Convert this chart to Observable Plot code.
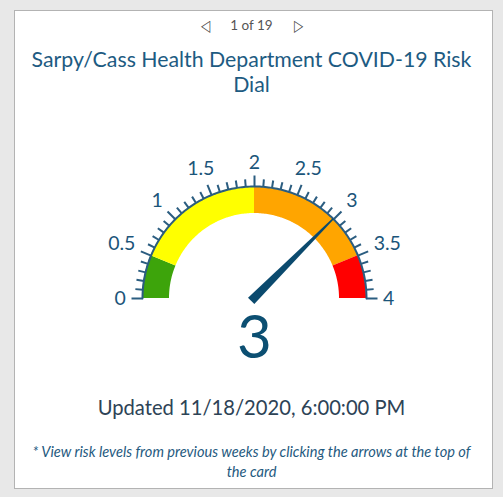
<!DOCTYPE html>
<html>
<head>
<meta charset="utf-8">
<script src="https://cdn.jsdelivr.net/npm/d3@7"></script>
<script src="https://cdn.jsdelivr.net/npm/@observablehq/plot@0.6"></script>
<style>
  html, body { margin: 0; padding: 0; width: 503px; height: 497px; overflow: hidden; background: #e8e8e8; font-family: Lato, "Open Sans", sans-serif; }
  #card { position: absolute; left: 14px; top: 10px; width: 477px; height: 477px; background: #fff; border: 1px solid #b3b3b3; }
  .abs { position: absolute; left: 0; width: 503px; text-align: center; white-space: nowrap; }
  #nav { top: 15px; font-size: 13.5px; color: #555; }
  #nav span.arr { display: inline-block; font-size: 16px; color: #444; margin: 0 19px; transform: scaleX(0.75); vertical-align: -1px; }
  #title { top: 47px; font-size: 21.3px; line-height: 25px; color: #1d5b82; }
  #updated { top: 395px; font-size: 20.2px; color: #2d4356; }
  #foot { top: 442px; font-size: 14.6px; line-height: 20px; font-style: italic; color: #1f5a80; }
  #chart { position: absolute; left: 0; top: 120px; }
</style>
</head>
<body>
<div id="card"></div>
<div id="nav" class="abs"><span class="arr">◁</span>1 of 19<span class="arr">▷</span></div>
<div id="title" class="abs">Sarpy/Cass Health Department COVID-19 Risk<br>Dial</div>
<div id="chart"></div>
<div id="updated" class="abs">Updated 11/18/2020, 6:00:00 PM</div>
<div id="foot" class="abs">* View risk levels from previous weeks by clicking the arrows at the top of<br>the card</div>
<script>
// ---- data ----
const gaugeMin = 0;
const gaugeMax = 4;
const currentValue = 3;
const bandFrom = [0, 0.5, 2, 3.5];
const bandTo = [0.5, 2, 3.5, 4];
const bandColors = ["#3da40b", "#ffff00", "#ffa500", "#ff0000"];
const tickLabels = ["0", "0.5", "1", "1.5", "2", "2.5", "3", "3.5", "4"];
const minorStep = 0.1;

// ---- geometry (pixels -> units) ----
const W = 503, H = 262;
const PX = 112;          // outer radius in px
const cx = 254, cy = 178; // gauge center inside svg
const inner = 85 / PX;
const ink = "#2b5d80";
const needleColor = "#0b4a6e";

const ang = v => Math.PI - (v - gaugeMin) / (gaugeMax - gaugeMin) * Math.PI;
const pol = (v, r) => [r * Math.cos(ang(v)), r * Math.sin(ang(v))];

// bands as polygons between inner and outer radius
const bandPts = [];
bandFrom.forEach((f, i) => {
  const t = bandTo[i];
  const n = Math.max(2, Math.ceil((t - f) / 0.02));
  for (let k = 0; k <= n; k++) {
    const v = f + (t - f) * k / n;
    const [xi, yi] = pol(v, inner);
    const [xo, yo] = pol(v, 1);
    bandPts.push({band: i, color: bandColors[i], x1: xi, y1: yi, x2: xo, y2: yo});
  }
});

// outer edge line
const edge = d3.range(0, 201).map(k => {
  const v = gaugeMin + (gaugeMax - gaugeMin) * k / 200;
  const [x, y] = pol(v, 1);
  return {x, y};
});

// ticks
const nTicks = Math.round((gaugeMax - gaugeMin) / minorStep);
const ticks = d3.range(0, nTicks + 1).map(k => {
  const v = gaugeMin + k * minorStep;
  const major = k % 5 === 0;
  const [x1, y1] = pol(v, 1);
  const [x2, y2] = pol(v, 1 + (major ? 11 : 7.5) / PX);
  return {x1, y1, x2, y2};
});

// labels: placed so the text box clears the ticks
const labels = tickLabels.map(s => {
  const v = +s;
  const w = s.replace(".", "").length * 10.5 + (s.includes(".") ? 5 : 0);
  const a0 = ang(v);
  const r = 129 + (w / 2) * Math.abs(Math.cos(a0)) + 7 * Math.abs(Math.sin(a0));
  const [x, y] = pol(v, r / PX);
  return {x, y, text: s};
});

// needle (quadrilateral via area x1,y1,x2,y2)
const a = ang(currentValue);
const ux = Math.cos(a), uy = Math.sin(a);
const px = -uy, py = ux;
const baseR = -4 / PX, tipR = 1;
const hw0 = 4.5 / PX, hw1 = 0.8 / PX;
const needle = [
  {x1: baseR * ux - px * hw0, y1: baseR * uy - py * hw0, x2: baseR * ux + px * hw0, y2: baseR * uy + py * hw0},
  {x1: tipR * ux - px * hw1, y1: tipR * uy - py * hw1, x2: tipR * ux + px * hw1, y2: tipR * uy + py * hw1}
];

const valueText = [{x: 0, y: -40 / PX, text: String(currentValue)}];

const plot = Plot.plot({
  width: W, height: H,
  margin: 0,
  x: {domain: [-cx / PX, (W - cx) / PX], axis: null},
  y: {domain: [-(H - cy) / PX, cy / PX], axis: null},
  color: {type: "identity"},
  style: {fontFamily: "Lato, 'Open Sans', sans-serif", background: "transparent"},
  marks: [
    Plot.area(bandPts, {x1: "x1", y1: "y1", x2: "x2", y2: "y2", z: "band", fill: "color"}),
    Plot.line(edge, {x: "x", y: "y", stroke: ink, strokeWidth: 2}),
    Plot.link(ticks, {x1: "x1", y1: "y1", x2: "x2", y2: "y2", stroke: ink, strokeWidth: 2}),
    Plot.text(labels, {x: "x", y: "y", text: "text", fontSize: 19.5, fill: "#1b557a"}),
    Plot.area(needle, {x1: "x1", y1: "y1", x2: "x2", y2: "y2", fill: needleColor}),
    Plot.text(valueText, {x: "x", y: "y", text: "text", fontSize: 60, fill: "#0c4f72"})
  ]
});
document.getElementById("chart").appendChild(plot);
</script>
</body>
</html>
